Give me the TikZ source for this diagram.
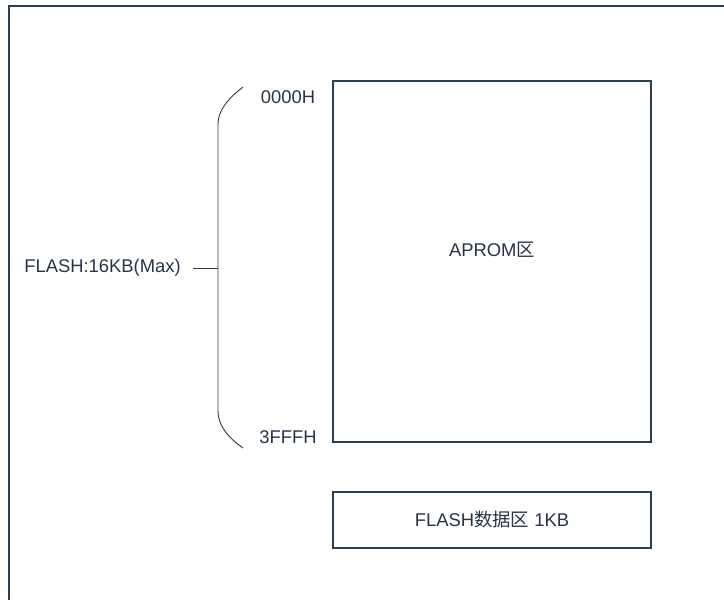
\documentclass[tikz,border=0pt]{standalone}
\usepackage{fontspec}
\setmainfont{Liberation Sans}
\newfontfamily\cjk{Noto Sans CJK SC}
\usepackage{tikz}
\usetikzlibrary{positioning,calc}
\definecolor{frame}{RGB}{44,62,84}
\definecolor{ink}{RGB}{38,52,70}

\tikzset{
  membox/.style={draw=frame,line width=0.9pt,inner sep=0pt,font=\fontsize{13.8}{16}\selectfont,text=ink},
  addr/.style={font=\fontsize{13.8}{16}\selectfont,text=ink,inner sep=0pt},
}

\begin{document}
\begin{tikzpicture}[x=0.75pt,y=-0.75pt]
    \useasboundingbox (0,0) rectangle (724,600);
    % Marco exterior (recortado por el borde).
    \draw[frame,line width=1.4pt] (9,600) -- (9,6) -- (724,6);

    % Bloques de memoria.
    \node[membox,minimum width=318*0.75pt,minimum height=361*0.75pt] (aprom) at (492,261.5) {};
    \node[addr] (aprom-txt) at (492,250) {APROM{\cjk 区}};
    \node[membox,minimum width=318*0.75pt,minimum height=56*0.75pt] (datos) at (492,520) {FLASH{\cjk 数据区} 1KB};

    % Direcciones.
    \node[addr] (ini) at (288,97) {0000H};
    \node[addr] (fin) at (288,437) {3FFFH};

    % Llave.
    \draw[frame,line width=0.7pt] (243,87) .. controls (226,100) and (218,112) .. (218,124)
      -- (218,411) .. controls (218,424) and (226,436) .. (243,448);
    \coordinate (llave) at (218,268);

    % Etiqueta de capacidad.
    \node[addr,anchor=east] (flash) at (181,268) {FLASH:16KB(Max)};
    \draw[frame,line width=0.7pt] ([xshift=9pt]flash.east) -- (llave);
\end{tikzpicture}
\end{document}
